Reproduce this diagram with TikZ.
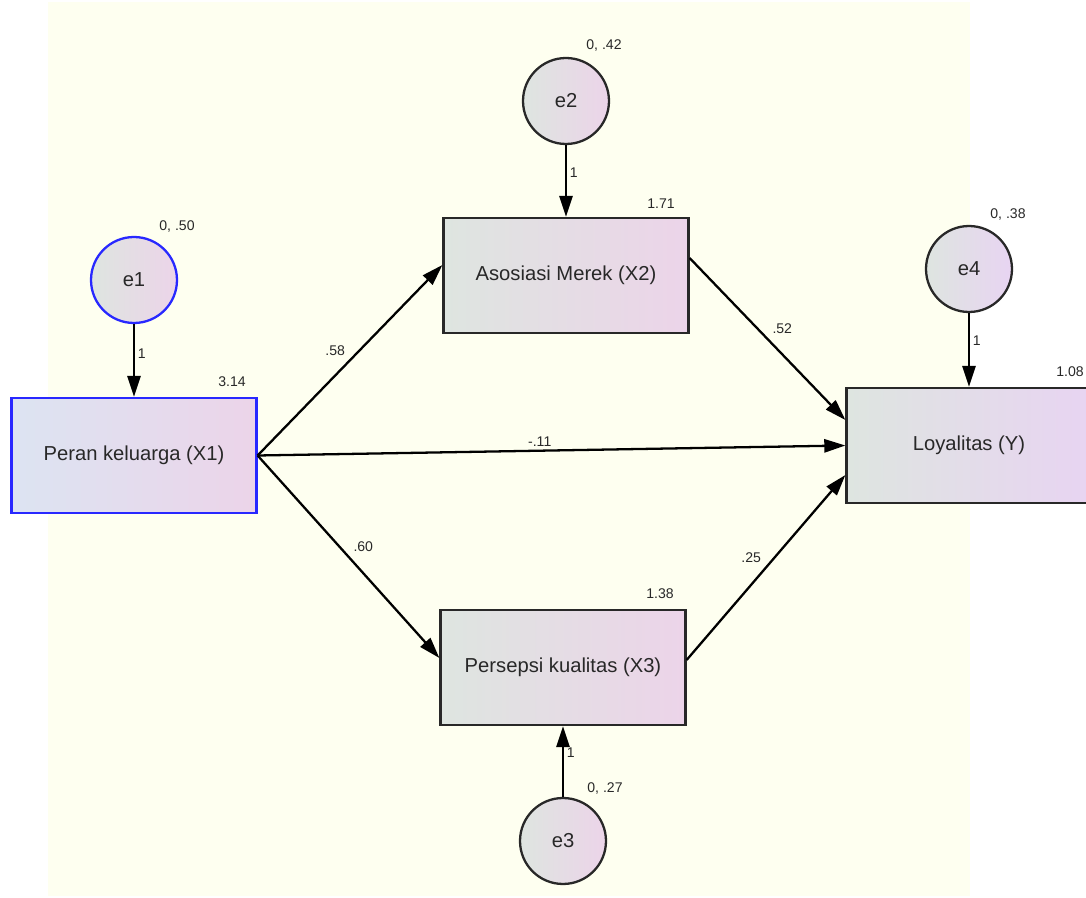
\documentclass[tikz,border=0pt]{standalone}
\usepackage{xcolor}
\usepackage{fontspec}
\setmainfont{Liberation Sans}
\usetikzlibrary{shapes, positioning, arrows.meta}

\definecolor{bgivory}{RGB}{254,255,240}
\definecolor{fillgrey}{RGB}{222,229,224}
\definecolor{fillpink}{RGB}{236,212,233}
\definecolor{fillblue}{RGB}{220,228,242}
\definecolor{fillviolet}{RGB}{232,212,242}
\definecolor{edgeblue}{RGB}{40,40,255}
\definecolor{inkgrey}{RGB}{40,40,40}

\tikzset{
	var/.style={draw=inkgrey, line width=1.3pt, rectangle, minimum width=4.9cm, minimum height=2.3cm, left color=fillgrey, right color=fillpink, text=inkgrey, font=\fontsize{11.5}{13}\selectfont},
	err/.style={draw=inkgrey, line width=1.3pt, circle, minimum size=1.72cm, inner sep=0pt, left color=fillgrey, right color=fillpink, text=inkgrey, font=\fontsize{11.5}{13}\selectfont},
	est/.style={text=inkgrey, inner sep=1.5pt, font=\fontsize{8}{9}\selectfont},
	regline/.style={-{Triangle[length=12pt, width=7.5pt]}, line width=1.3pt, draw=black}
}

\begin{document}
\begin{tikzpicture}[x=0.02cm, y=-0.02cm]
			\useasboundingbox (0,0) rectangle (1086,898);
			\fill[bgivory] (48,2) rectangle (970,896);
			
			\node[var, draw=edgeblue, left color=fillblue] (X1) at (134,455.5) {Peran keluarga (X1)};
			\node[var] (X2) at (566,275.5) {Asosiasi Merek (X2)};
			\node[var] (X3) at (563,667.5) {Persepsi kualitas (X3)};
			\node[var, right color=fillviolet] (Y) at (969,445.5) {Loyalitas (Y)};
			
			\node[err, draw=edgeblue] (e1) at (134,280) {e1};
			\node[err] (e2) at (566,101) {e2};
			\node[err] (e3) at (563,841) {e3};
			\node[err, right color=fillviolet] (e4) at (969,269) {e4};
			
			\node[est] (v1) at (177,226) {0, .50};
			\node[est] (v2) at (604,45) {0, .42};
			\node[est] (v3) at (605,788) {0, .27};
			\node[est] (v4) at (1008,214) {0, .38};
			
			\node[est] (i1) at (232,382) {3.14};
			\node[est] (i2) at (661,204) {1.71};
			\node[est] (i3) at (660,594) {1.38};
			\node[est] (i4) at (1070,372) {1.08};
			
			\draw[regline] (e1) -- node[est, pos=0.4, right] (w1) {1} (X1);
			\draw[regline] (e2) -- node[est, pos=0.38, right] (w2) {1} (X2);
			\draw[regline] (e3) -- node[est, pos=0.62, right] (w3) {1} (X3);
			\draw[regline] (e4) -- node[est, pos=0.38, right] (w4) {1} (Y);
			
			\draw[regline] (X1.east) -- node[est, above left=1pt] (b12) {.58} ([yshift=0.21cm]X2.west);
			\draw[regline] (X1.east) -- node[est, pos=0.48, above] (b1y) {-.11} (Y.west);
			\draw[regline] (X1.east) -- node[est, above right=1pt] (b13) {.60} ([yshift=0.19cm]X3.west);
			\draw[regline] ([yshift=0.35cm]X2.east) -- node[est, above right=1pt] (b2y) {.52} ([yshift=0.51cm]Y.west);
			\draw[regline] ([yshift=0.15cm]X3.east) -- node[est, above left=1pt] (b3y) {.25} ([yshift=-0.59cm]Y.west);
		\end{tikzpicture}
\end{document}
